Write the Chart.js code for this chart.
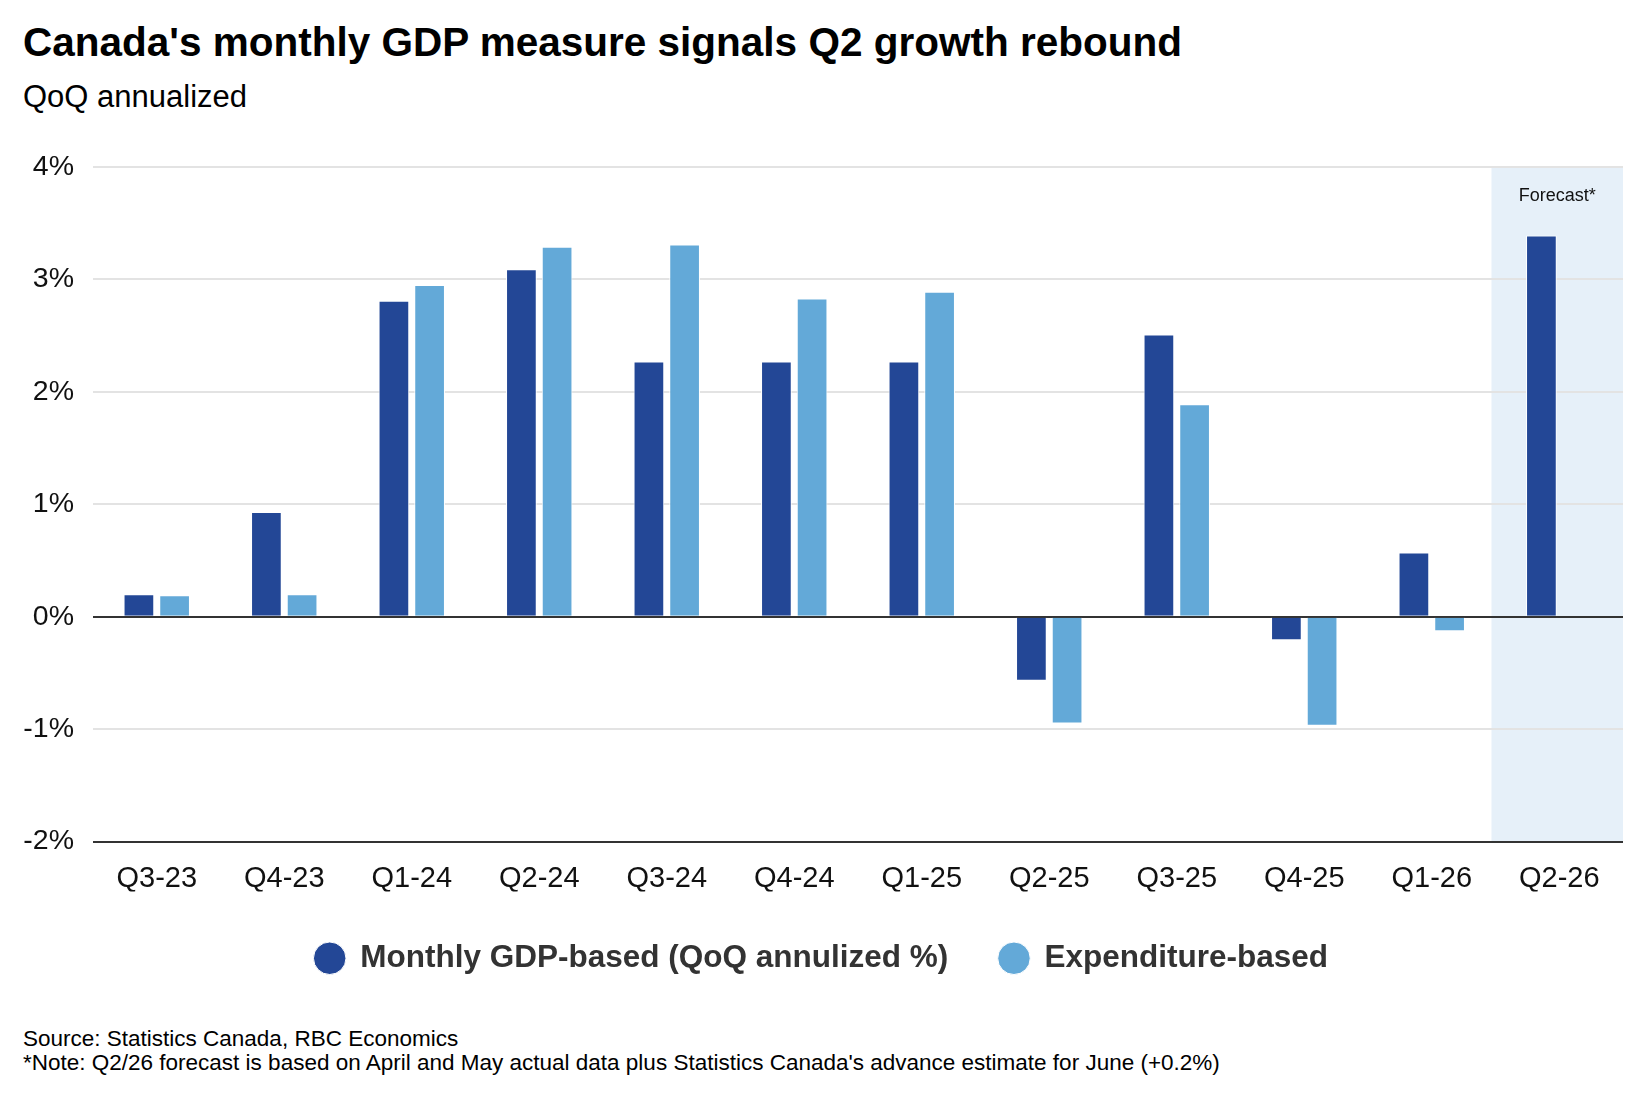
<!DOCTYPE html>
<html>
<head>
<meta charset="utf-8">
<script src="https://cdn.jsdelivr.net/npm/chart.js@4.4.1/dist/chart.umd.min.js"></script>
<style>
  body { margin: 0; background: #fff; font-family: "Liberation Sans", Arial, sans-serif; }
  #wrap { position: relative; width: 1643px; height: 1104px; overflow: hidden; }
  .txt { position: absolute; left: 23px; line-height: 1; white-space: nowrap; color: #000; }
  #title { top: 22px; font-size: 40.5px; font-weight: bold; }
  #subtitle { top: 81px; font-size: 31px; }
  #source { top: 1028px; font-size: 22.5px; }
  #note { top: 1052px; font-size: 22.5px; }
  #box { position: absolute; left: 20px; top: 120px; width: 1623px; height: 870px; }
</style>
</head>
<body>
<div id="wrap">
  <div id="title" class="txt">Canada's monthly GDP measure signals Q2 growth rebound</div>
  <div id="subtitle" class="txt">QoQ annualized</div>
  <div id="box"><canvas id="chart"></canvas></div>
  <div id="source" class="txt">Source: Statistics Canada, RBC Economics</div>
  <div id="note" class="txt">*Note: Q2/26 forecast is based on April and May actual data plus Statistics Canada's advance estimate for June (+0.2%)</div>
</div>
<script>
const quarters = ['Q3-23', 'Q4-23', 'Q1-24', 'Q2-24', 'Q3-24', 'Q4-24', 'Q1-25', 'Q2-25', 'Q3-25', 'Q4-25', 'Q1-26', 'Q2-26'];
const monthlyGdp = [0.2, 0.93, 2.81, 3.09, 2.27, 2.27, 2.27, -0.57, 2.51, -0.21, 0.57, 3.39];
const expenditure = [0.19, 0.2, 2.95, 3.29, 3.31, 2.83, 2.89, -0.95, 1.89, -0.97, -0.13, null];
const yTicks = [-2, -1, 0, 1, 2, 3, 4];
const forecastFrom = 'Q2-26';

const darkBlue = '#234796';
const lightBlue = '#63a9d8';
const fontFamily = '"Liberation Sans", Arial, sans-serif';

// shaded forecast column + label, drawn under the grid and bars
const forecastBand = {
    id: 'forecastBand',
    beforeDraw(chart) {
        const x = chart.scales.x;
        const area = chart.chartArea;
        const idx = quarters.indexOf(forecastFrom);
        const half = (x.getPixelForValue(1) - x.getPixelForValue(0)) / 2;
        const left = x.getPixelForValue(idx) - half - 4;
        const ctx = chart.ctx;
        ctx.save();
        ctx.fillStyle = '#e6f0f9';
        ctx.fillRect(left, area.top, area.right - left, area.bottom - area.top);
        ctx.fillStyle = '#111';
        ctx.font = '18px ' + fontFamily;
        ctx.textAlign = 'center';
        ctx.textBaseline = 'middle';
        ctx.fillText('Forecast*', x.getPixelForValue(idx) - 2, area.top + 29);
        ctx.restore();
    }
};

const ctx = document.getElementById('chart').getContext('2d');
const chart = new Chart(ctx, {
    type: 'bar',
    data: {
        labels: quarters,
        datasets: [{
            label: 'Monthly GDP-based (QoQ annulized %)',
            data: monthlyGdp,
            backgroundColor: darkBlue,
            borderColor: '#ffffff',
            borderWidth: 1,
            borderSkipped: 'start'
        }, {
            label: 'Expenditure-based',
            data: expenditure,
            backgroundColor: lightBlue,
            borderColor: '#ffffff',
            borderWidth: 1,
            borderSkipped: 'start'
        }]
    },
    options: {
        responsive: true,
        maintainAspectRatio: false,
        animation: false,
        categoryPercentage: 0.56,
        barPercentage: 0.86,
        layout: { padding: { top: 47, right: 20, bottom: 6, left: 0 } },
        scales: {
            x: {
                grid: { display: false, drawTicks: false },
                border: { display: false },
                ticks: {
                    color: '#111',
                    padding: 20,
                    font: { family: fontFamily, size: 29 }
                },
                afterFit(scale) { scale.height = 50; }
            },
            y: {
                min: -2,
                max: 4,
                afterBuildTicks(scale) { scale.ticks = yTicks.map(v => ({ value: v })); },
                border: { display: false },
                grid: {
                    drawTicks: false,
                    lineWidth: 2,
                    color: c => (c.tick && (c.tick.value === 0 || c.tick.value === -2)) ? '#333333' : '#e3e3e3'
                },
                ticks: {
                    color: '#111',
                    padding: 19,
                    font: { family: fontFamily, size: 28.5 },
                    callback: v => v + '%'
                },
                afterFit(scale) { scale.width = 73; }
            }
        },
        plugins: {
            legend: {
                position: 'bottom',
                labels: {
                    usePointStyle: true,
                    pointStyle: 'circle',
                    boxWidth: 29.5,
                    boxHeight: 23,
                    padding: 51,
                    color: '#333',
                    font: { family: fontFamily, size: 31.5, weight: 'bold' }
                }
            },
            tooltip: { enabled: false }
        }
    },
    plugins: [forecastBand]
});
</script>
</body>
</html>
